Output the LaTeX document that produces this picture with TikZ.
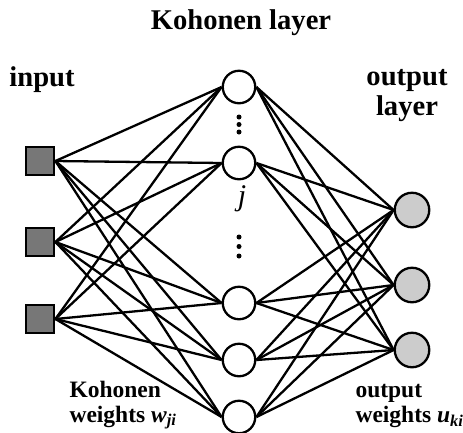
\documentclass[tikz,border=0pt]{standalone}
\usepackage{fontspec}
\setmainfont{Liberation Serif}
\definecolor{inputgray}{HTML}{777777}
\definecolor{outputgray}{HTML}{CCCCCC}
\begin{document}
\begin{tikzpicture}[x=1pt,y=-1pt]
        \useasboundingbox (0,0) rectangle (463,432);
        \begin{scope}[every node/.style={font=\bfseries\fontsize{28.6}{30}\selectfont,align=center}]
          \node (title) at (241,23) {Kohonen layer};
          \node (inlabel) at (42,80) {input};
          \node (outlabel) at (407,96) {output\\layer};
        \end{scope}
        \begin{scope}[every node/.style={font=\bfseries\fontsize{23.5}{25}\selectfont,align=left,anchor=west}]
          \node (wlabel) at (66,405) {Kohonen\\weights \textit{w}\textsubscript{\textit{ji}}};
          \node (ulabel) at (352,406) {output\\weights \textit{u}\textsubscript{\textit{ki}}};
        \end{scope}
        \node[font=\itshape\fontsize{30}{32}\selectfont] (j) at (242,199) {j};
        \begin{scope}[every node/.style={rectangle,draw,line width=2.3pt,fill=inputgray,minimum size=28.5pt,inner sep=0pt}]
          \node (i1) at (40,161) {};
          \node (i2) at (40,242) {};
          \node (i3) at (40,319) {};
        \end{scope}
        \begin{scope}[every node/.style={circle,draw,line width=2.3pt,fill=white,minimum size=32.5pt,inner sep=0pt}]
          \node (h1) at (239,87) {};
          \node (h2) at (239,163) {};
          \node (h3) at (239,303) {};
          \node (h4) at (239,360) {};
          \node (h5) at (239,417) {};
        \end{scope}
        \begin{scope}[every node/.style={circle,draw,line width=2.3pt,fill=outputgray,minimum size=34.5pt,inner sep=0pt}]
          \node (o1) at (412,210) {};
          \node (o2) at (412,285) {};
          \node (o3) at (412,350) {};
        \end{scope}
        % vertical dots between the Kohonen neurons
        \fill (239,117) circle (2.5) (239,124.5) circle (2.5) (239,132) circle (2.5);
        \fill (239,237) circle (2.5) (239,246.5) circle (2.5) (239,256) circle (2.5);
        \begin{scope}[every edge/.style={draw=black,line width=2.3pt}]
          \path (i1.east) edge (h1.west);
          \path (i1.east) edge (h2.west);
          \path (i1.east) edge (h3.west);
          \path (i1.east) edge (h4.west);
          \path (i1.east) edge (h5.west);
          \path (i2.east) edge (h1.west);
          \path (i2.east) edge (h2.west);
          \path (i2.east) edge (h3.west);
          \path (i2.east) edge (h4.west);
          \path (i2.east) edge (h5.west);
          \path (i3.east) edge (h1.west);
          \path (i3.east) edge (h2.west);
          \path (i3.east) edge (h3.west);
          \path (i3.east) edge (h4.west);
          \path (i3.east) edge (h5.west);
          \path (h1.east) edge (o1.west);
          \path (h1.east) edge (o2.west);
          \path (h1.east) edge (o3.west);
          \path (h2.east) edge (o1.west);
          \path (h2.east) edge (o2.west);
          \path (h2.east) edge (o3.west);
          \path (h3.east) edge (o1.west);
          \path (h3.east) edge (o2.west);
          \path (h3.east) edge (o3.west);
          \path (h4.east) edge (o1.west);
          \path (h4.east) edge (o2.west);
          \path (h4.east) edge (o3.west);
          \path (h5.east) edge (o1.west);
          \path (h5.east) edge (o2.west);
          \path (h5.east) edge (o3.west);
        \end{scope}
\end{tikzpicture}
\end{document}
